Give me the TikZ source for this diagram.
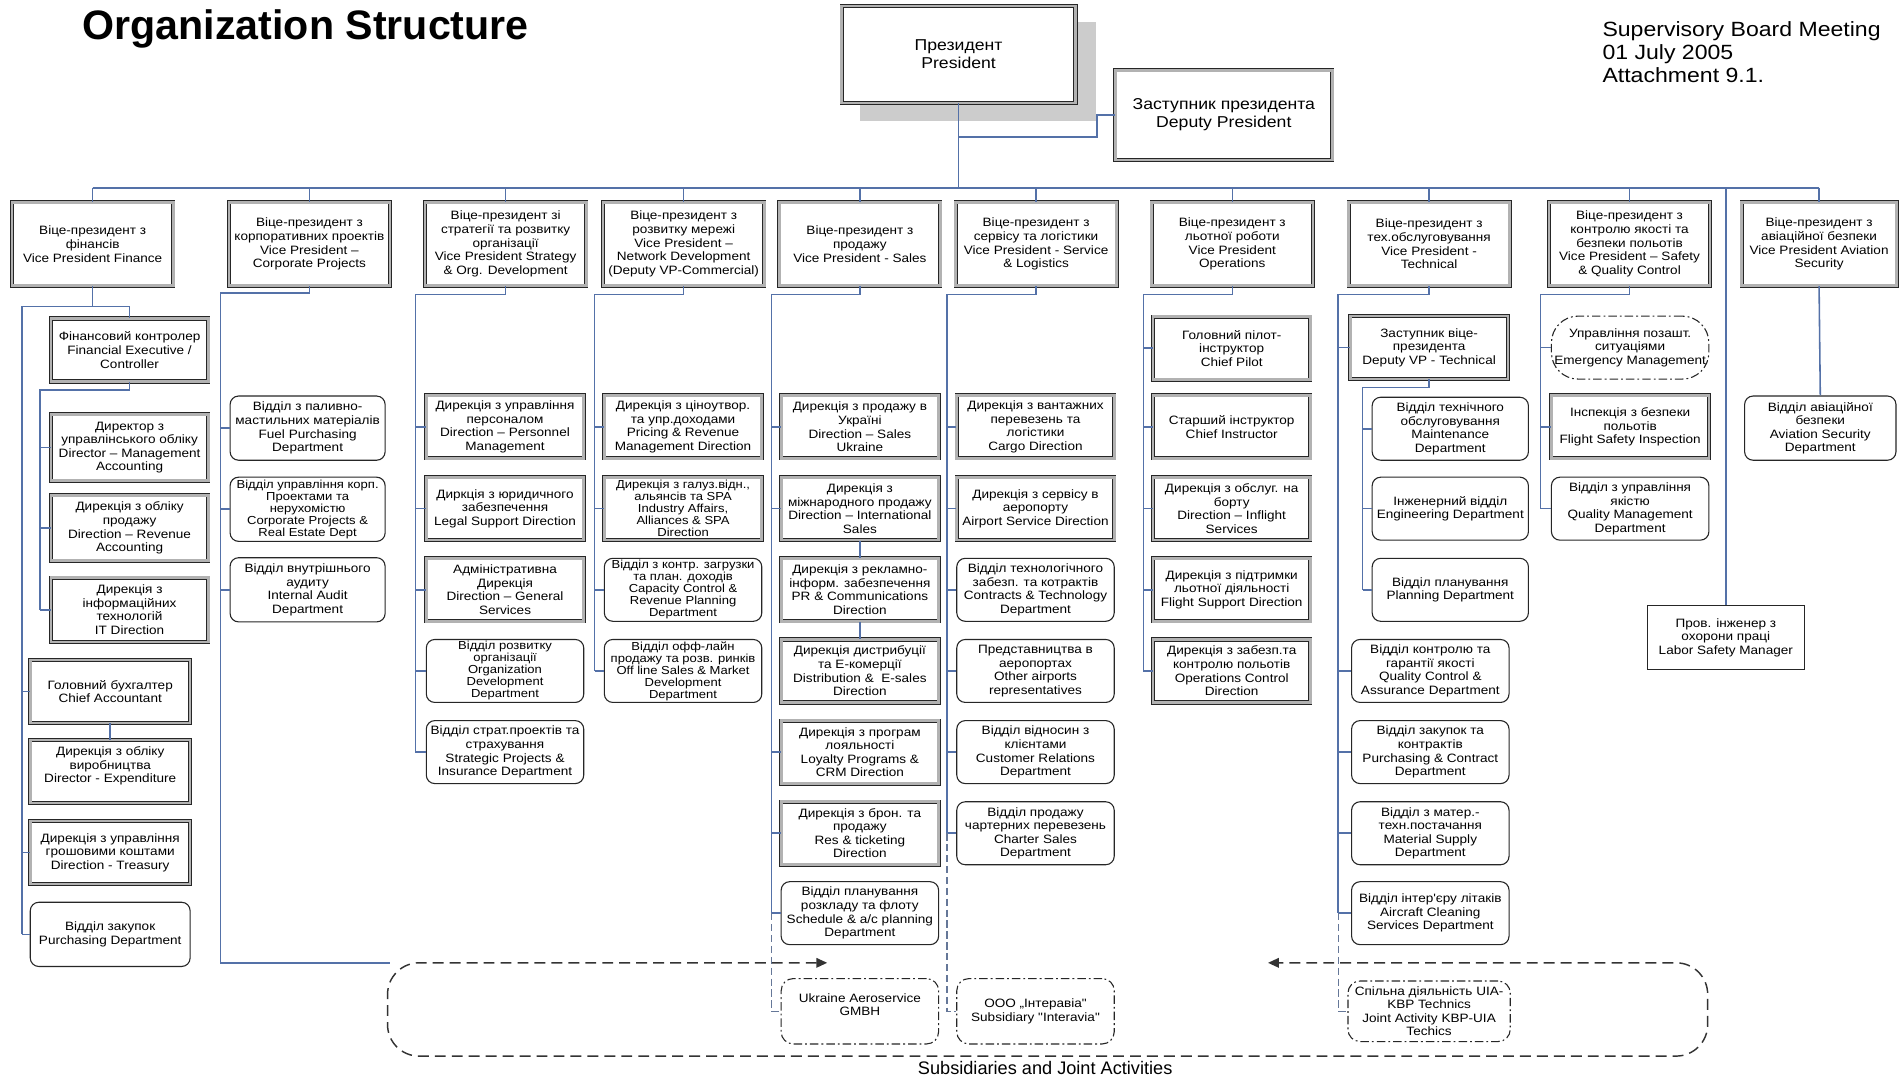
\documentclass[tikz,border=0pt]{standalone}
\usepackage{fontspec}
\setmainfont{Liberation Sans}
\newfontfamily\stretchfont[FakeStretch=1.12]{Liberation Sans}
\usetikzlibrary{arrows.meta}
\definecolor{linec}{RGB}{84,113,168}
\begin{document}
\begin{tikzpicture}[x=1pt,y=-1pt]
\useasboundingbox (0,0) rectangle (1568,889);
\tikzset{
 conn/.style={draw=linec, line width=1.3pt},
 dsh/.style={draw=linec!60!gray, line width=1pt, dash pattern=on 6pt off 3pt},
 boxbase/.style={align=center, font=\stretchfont\fontsize{10}{11.2}\selectfont, inner sep=1pt, fill=white},
 tightf/.style={font=\stretchfont\fontsize{9.6}{9.9}\selectfont},
 dbl/.style={boxbase, draw=black!85, line width=0.6pt, double=gray!60, double distance=2.2pt},
 rnd/.style={boxbase, draw=black!85, line width=0.9pt, rounded corners=7pt},
 dd/.style={boxbase, draw=black!85, line width=0.9pt, rounded corners=10pt, dash pattern=on 7pt off 2.5pt on 1.5pt off 2.5pt},
 plainb/.style={boxbase, draw=black!85, line width=0.9pt},
 sub/.style={minimum width=130pt, minimum height=52pt},
 vpb/.style={dbl, minimum width=133pt, minimum height=69pt, font=\stretchfont\fontsize{10}{11.3}\selectfont},
 bigd/.style={draw=black!80, line width=1.2pt, dash pattern=on 9pt off 5pt},
}
% ---------- header ----------
\node[anchor=base west, font=\bfseries\fontsize{34}{40}\selectfont, inner sep=0] (title) at (68,33) {Organization Structure};
\node[anchor=north west, align=left, font=\stretchfont\fontsize{17}{19}\selectfont, inner sep=0] (meet) at (1323,18) {Supervisory Board Meeting\\01 July 2005\\Attachment 9.1.};
\fill[gray!40] (710,18) rectangle (905,100);
\node[dbl, minimum width=193pt, minimum height=80pt, font=\stretchfont\fontsize{13}{15}\selectfont] (pres) at (791.5,45) {Президент\\President};
\node[dbl, minimum width=179pt, minimum height=74pt, font=\stretchfont\fontsize{13}{15}\selectfont] (dep) at (1010.5,95) {Заступник президента\\Deputy President};
% ---------- VP row ----------
\node[vpb] (vp1) at (76.5,201.5) {Віце-президент з\\фінансів\\Vice President Finance};
\node[vpb] (vp2) at (255.5,201.5) {Віце-президент з\\корпоративних проектів\\Vice President –\\Corporate Projects};
\node[vpb] (vp3) at (417.5,201.5) {Віце-президент зі\\стратегії та розвитку\\організації\\Vice President Strategy\\\& Org. Development};
\node[vpb] (vp4) at (564.5,201.5) {Віце-президент з\\розвитку мережі\\Vice President –\\Network Development\\(Deputy VP-Commercial)};
\node[vpb] (vp5) at (710,201.5) {Віце-президент з\\продажу\\Vice President - Sales};
\node[vpb] (vp6) at (855.5,201.5) {Віце-президент з\\сервісу та логістики\\Vice President - Service\\\& Logistics};
\node[vpb] (vp7) at (1017.5,201.5) {Віце-президент з\\льотної роботи\\Vice President\\Operations};
\node[vpb] (vp8) at (1180,201.5) {Віце-президент з\\тех.обслуговування\\Vice President -\\Technical};
\node[vpb] (vp9) at (1345.5,201.5) {Віце-президент з\\контролю якості та\\безпеки польотів\\Vice President – Safety\\\& Quality Control};
\node[vpb, minimum width=128pt] (vp10) at (1502,201.5) {Віце-президент з\\авіаційної безпеки\\Vice President Aviation\\Security};
% ---------- Finance ----------
\node[dbl, sub] (fc) at (107,289) {Фінансовий контролер\\Financial Executive /\\Controller};
\node[dbl, sub, minimum height=55pt] (ma) at (107,369.5) {Директор з\\управлінського обліку\\Director – Management\\Accounting};
\node[dbl, sub, minimum height=54pt] (ra) at (107,436) {Дирекція з обліку\\продажу\\Direction – Revenue\\Accounting};
\node[dbl, sub, minimum height=53pt] (itd) at (107,503.5) {Дирекція з\\інформаційних\\технологій\\IT Direction};
\node[dbl, sub, minimum width=132pt] (ca) at (91,571) {Головний бухгалтер\\Chief Accountant};
\node[dbl, sub, minimum width=132pt] (ex) at (91,637) {Дирекція з обліку\\виробництва\\Director - Expenditure\\~};
\node[dbl, sub, minimum width=132pt] (tr) at (91,704) {Дирекція з управління\\грошовими коштами\\Direction - Treasury};
\node[rnd, sub, minimum width=132pt, minimum height=53pt] (purch) at (91,771.5) {Відділ закупок\\Purchasing Department};
% ---------- Corporate projects ----------
\node[rnd, sub, minimum width=128pt, minimum height=53pt] (fuel) at (254,353.5) {Відділ з паливно-\\мастильних матеріалів\\Fuel Purchasing\\Department};
\node[rnd, sub, tightf, minimum width=128pt, minimum height=53pt] (crp) at (254,420.5) {Відділ управління корп.\\Проектами та\\нерухомістю\\Corporate Projects \&\\Real Estate Dept};
\node[rnd, sub, minimum width=128pt, minimum height=53pt] (aud) at (254,487) {Відділ внутрішнього\\аудиту\\Internal Audit\\Department};
% ---------- Strategy ----------
\node[dbl, sub] (c3a) at (417,352.5) {Дирекція з управління\\персоналом\\Direction – Personnel\\Management};
\node[dbl, sub] (c3b) at (417,420) {Диркція з юридичного\\забезпечення\\Legal Support Direction};
\node[dbl, sub] (c3c) at (417,487) {Адміністративна\\Дирекція\\Direction – General\\Services};
\node[rnd, sub, tightf] (c3d) at (417,554) {Відділ розвитку\\організації\\Organization\\Development\\Department};
\node[rnd, sub] (c3e) at (417,621) {Відділ страт.проектів та\\страхування\\Strategic Projects \&\\Insurance Department};
% ---------- Network ----------
\node[dbl, sub] (c4a) at (564,352.5) {Дирекція з ціноутвор.\\та упр.доходами\\Pricing \& Revenue\\Management Direction};
\node[dbl, sub, tightf] (c4b) at (564,420) {Дирекція з галуз.відн.,\\альянсів та SPA\\Industry Affairs,\\Alliances \& SPA\\Direction};
\node[rnd, sub, tightf] (c4c) at (564,487) {Відділ з контр. загрузки\\та план. доходів\\Capacity Control \&\\Revenue Planning\\Department};
\node[rnd, sub, tightf] (c4d) at (564,554) {Відділ офф-лайн\\продажу та розв. ринків\\Off line Sales \& Market\\Development\\Department};
% ---------- Sales ----------
\node[dbl, sub] (su) at (710,352.5) {Дирекція з продажу в\\Україні\\Direction – Sales\\Ukraine};
\node[dbl, sub] (is) at (710,420) {Дирекція з\\міжнародного продажу\\Direction – International\\Sales};
\node[dbl, sub] (pr) at (710,487) {Дирекція з рекламно-\\інформ. забезпечення\\PR \& Communications\\Direction};
\node[dbl, sub] (dis) at (710,554) {Дирекція дистрибуції\\та Е-комерції\\Distribution \&~~E-sales\\Direction};
\node[dbl, sub] (loy) at (710,621) {Дирекція з програм\\лояльності\\Loyalty Programs \&\\CRM Direction};
\node[dbl, sub] (res) at (710,688) {Дирекція з брон. та\\продажу\\Res \& ticketing\\Direction};
\node[rnd, sub] (sch) at (710,754) {Відділ планування\\розкладу та флоту\\Schedule \& a/c planning\\Department};
% ---------- Service ----------
\node[dbl, sub] (cg) at (855,352.5) {Дирекція з вантажних\\перевезень та\\логістики\\Cargo Direction};
\node[dbl, sub] (ap) at (855,420) {Дирекція з сервісу в\\аеропорту\\Airport Service Direction};
\node[rnd, sub] (ct) at (855,487) {Відділ технологічного\\забезп. та котрактів\\Contracts \& Technology\\Department};
\node[rnd, sub] (oa) at (855,554) {Представництва в\\аеропортах\\Other airports\\representatives};
\node[rnd, sub] (cr) at (855,621) {Відділ відносин з\\клієнтами\\Customer Relations\\Department};
\node[rnd, sub] (chs) at (855,688) {Відділ продажу\\чартерних перевезень\\Charter Sales\\Department};
% ---------- Operations ----------
\node[dbl, sub] (cp) at (1017,287.5) {Головний пілот-\\інструктор\\Chief Pilot};
\node[dbl, sub] (ci) at (1017,352.5) {Старший інструктор\\Chief Instructor};
\node[dbl, sub] (inf) at (1017,420) {Дирекція з обслуг. на\\борту\\Direction – Inflight\\Services};
\node[dbl, sub] (fs) at (1017,487) {Дирекція з підтримки\\льотної діяльності\\Flight Support Direction};
\node[dbl, sub] (oc) at (1017,554) {Дирекція з забезп.та\\контролю польотів\\Operations Control\\Direction};
% ---------- Technical ----------
\node[dbl, sub] (dvp) at (1180,287) {Заступник віце-\\президента\\Deputy VP - Technical};
\node[rnd, sub, minimum width=129pt] (mt) at (1197.5,354) {Відділ технічного\\обслуговування\\Maintenance\\Department};
\node[rnd, sub, minimum width=129pt] (en) at (1197.5,420) {Інженерний відділ\\Engineering Department};
\node[rnd, sub, minimum width=129pt] (pl) at (1197.5,487) {Відділ планування\\Planning Department};
\node[rnd, sub] (qc) at (1181,554) {Відділ контролю та\\гарантії якості\\Quality Control \&\\Assurance Department};
\node[rnd, sub] (pc) at (1181,621) {Відділ закупок та\\контрактів\\Purchasing \& Contract\\Department};
\node[rnd, sub] (ms) at (1181,688) {Відділ з матер.-\\техн.постачання\\Material Supply\\Department};
\node[rnd, sub] (acl) at (1181,754) {Відділ інтер'єру літаків\\Aircraft Cleaning\\Services Department};
% ---------- Safety ----------
\node[dd, sub, rounded corners=22pt] (em) at (1346,287) {Управління позашт.\\ситуаціями\\Emergency Management};
\node[dbl, sub] (fsi) at (1346,352.5) {Інспекція з безпеки\\польотів\\Flight Safety Inspection};
\node[rnd, sub] (qm) at (1346,420) {Відділ з управління\\якістю\\Quality Management\\Department};
% ---------- Aviation security ----------
\node[rnd, sub, minimum width=125pt, minimum height=53pt] (asd) at (1503,353.5) {Відділ авіаційної\\безпеки\\Aviation Security\\Department};
\node[plainb, sub, minimum height=53pt] (labor) at (1425,526.5) {Пров. інженер з\\охорони праці\\Labor Safety Manager};
% ---------- Subsidiaries ----------
\node[dd, sub, minimum height=54pt] (uas) at (710,835) {Ukraine Aeroservice\\GMBH\\~};
\node[dd, sub, minimum height=54pt] (intv) at (855,835) {ООО „Інтеравіа"\\Subsidiary "Interavia"};
\node[dd, sub, minimum width=134pt, minimum height=50pt] (jnt) at (1180,835) {Спільна діяльність UIA-\\KBP Technics\\Joint Activity KBP-UIA\\Techics};
\node[font=\fontsize{15}{17}\selectfont, inner sep=1pt] (sublab) at (863,882) {Subsidiaries and Joint Activities};

% ---------- connectors ----------
\coordinate (busL) at (76.5,155);
\coordinate (busR) at (1502,155);
\draw[conn] (busL) -- (busR);
\draw[conn] (pres.south) -- (pres.south |- busL);
\coordinate (dj) at (791.5,113);
\coordinate (dk) at (906,95);
\draw[conn] (dj) -| (dk) -- (dep.west);
\foreach \v in {vp1,vp2,vp3,vp4,vp5,vp6,vp7,vp8,vp9,vp10} {\draw[conn] (\v.north |- busL) -- (\v.north);}
\draw[conn] (labor.north |- busL) -- (labor.north);
% finance
\coordinate (s1) at (18,253);
\draw[conn] (vp1.south) -- (vp1.south |- s1);
\draw[conn] (s1) -| (fc.north);
\draw[conn] (s1) -- (s1 |- purch.west);
\foreach \n in {ca,tr,purch} {\draw[conn] (s1 |- \n.west) -- (\n.west);}
\draw[conn] (ca.south) -- (ex.north);
\coordinate (s1i) at (33,322);
\draw[conn] (fc.south) |- (s1i) -- (s1i |- itd.west);
\foreach \n in {ma,ra,itd} {\draw[conn] (s1i |- \n.west) -- (\n.west);}
% corporate
\coordinate (s2) at (182,242);
\coordinate (s2b) at (182,795);
\coordinate (subL) at (322,795);
\draw[conn] (vp2.south) |- (s2) -- (s2b) -- (subL);
\foreach \n in {fuel,crp,aud} {\draw[conn] (s2 |- \n.west) -- (\n.west);}
% strategy
\coordinate (s3) at (343,243);
\draw[conn] (vp3.south) |- (s3) -- (s3 |- c3e.west);
\foreach \n in {c3a,c3b,c3c,c3d,c3e} {\draw[conn] (s3 |- \n.west) -- (\n.west);}
% network
\coordinate (s4) at (491,243);
\draw[conn] (vp4.south) |- (s4) -- (s4 |- c4d.west);
\foreach \n in {c4a,c4b,c4c,c4d} {\draw[conn] (s4 |- \n.west) -- (\n.west);}
% sales
\coordinate (s5) at (637,243);
\draw[conn] (vp5.south) |- (s5) -- (s5 |- sch.west);
\foreach \n in {su,is,loy,res,sch} {\draw[conn] (s5 |- \n.west) -- (\n.west);}
\draw[conn] (is.south) -- (pr.north);
\draw[conn] (pr.south) -- (dis.north);
\draw[dsh] (s5 |- sch.west) -- (s5 |- uas.west) -- (uas.west);
% service
\coordinate (s6) at (782,243);
\draw[conn] (vp6.south) |- (s6) -- (s6 |- chs.west);
\foreach \n in {cg,ap,ct,oa,cr,chs} {\draw[conn] (s6 |- \n.west) -- (\n.west);}
\draw[dsh] (s6 |- chs.west) -- (s6 |- intv.west) -- (intv.west);
% operations
\coordinate (s7) at (944,243);
\draw[conn] (vp7.south) |- (s7) -- (s7 |- oc.west);
\foreach \n in {cp,ci,inf,fs,oc} {\draw[conn] (s7 |- \n.west) -- (\n.west);}
% technical
\coordinate (s8) at (1105,243);
\draw[conn] (vp8.south) |- (s8) -- (s8 |- acl.west);
\foreach \n in {dvp,qc,pc,ms,acl} {\draw[conn] (s8 |- \n.west) -- (\n.west);}
\coordinate (s8i) at (1125,320);
\draw[conn] (dvp.south) |- (s8i) -- (s8i |- pl.west);
\foreach \n in {mt,en,pl} {\draw[conn] (s8i |- \n.west) -- (\n.west);}
\draw[dsh] (s8 |- acl.west) -- (s8 |- jnt.west) -- (jnt.west);
% safety
\coordinate (s9) at (1272,243);
\draw[conn] (vp9.south) |- (s9) -- (s9 |- qm.west);
\foreach \n in {em,fsi,qm} {\draw[conn] (s9 |- \n.west) -- (\n.west);}
% aviation security
\draw[conn] (vp10.south) -- (asd.north);
% subsidiaries frame
\coordinate (arrL) at (683,795);
\coordinate (arrR) at (1047,795);
\draw[bigd, rounded corners=26pt, {Triangle[length=9pt,width=8pt]}-{Triangle[length=9pt,width=8pt]}] (arrL) -- (320,795) -- (320,872) -- (1410,872) -- (1410,795) -- (arrR);
\end{tikzpicture}
\end{document}
